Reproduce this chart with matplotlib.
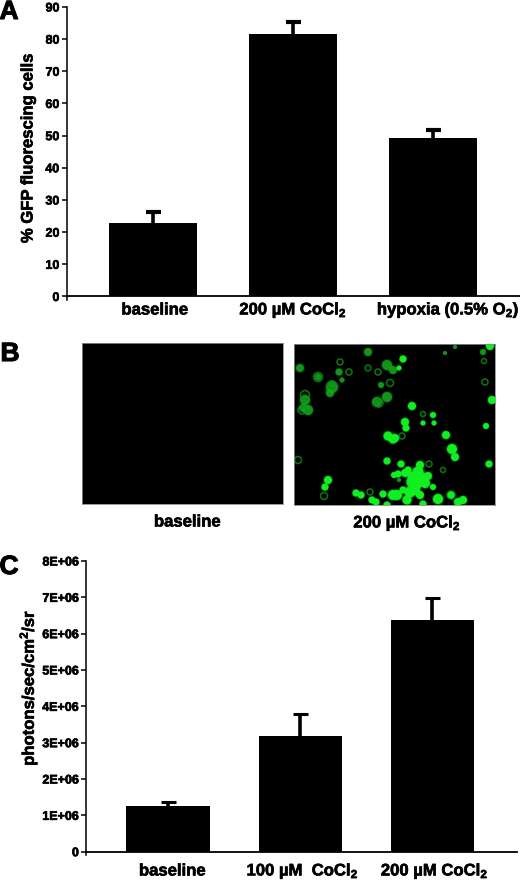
import matplotlib
matplotlib.use('Agg')
import matplotlib.pyplot as plt
import matplotlib.patheffects as pe

plt.rcParams['font.family'] = ['Liberation Sans']
plt.rcParams['font.weight'] = 'bold'
plt.rcParams['mathtext.fontset'] = 'custom'
plt.rcParams['mathtext.bf'] = 'Liberation Sans:bold'
plt.rcParams['mathtext.rm'] = 'Liberation Sans:bold'
plt.rcParams['mathtext.default'] = 'bf'

# Panel A
a_labels = ['baseline', '200 µM CoCl$_{2}$', 'hypoxia (0.5% O$_{2}$)']
a_values = [22.7, 81.7, 49.2]
a_errors = [3.6, 3.7, 2.7]
a_ticks = [0, 10, 20, 30, 40, 50, 60, 70, 80, 90]

b_labels = ['baseline', '200 µM CoCl$_{2}$']
bright_cells = [(403, 359, 7), (412, 406, 8), (405, 422, 8), (492, 400, 8), (433, 415, 6),
                (423, 423, 5), (434, 423, 5), (399, 368, 5), (446, 435, 8), (452, 449, 10),
                (455, 457, 8), (489, 464, 7), (401, 464, 7), (406, 428, 7), (395, 438, 8),
                (418, 472, 11), (413, 477, 11), (422, 478, 11), (398, 474, 7), (405, 473, 8),
                (412, 482, 11), (425, 483, 10), (410, 492, 11), (417, 485, 9), (407, 500, 9),
                (415, 490, 10), (433, 487, 6), (397, 495, 10), (438, 499, 10), (451, 495, 7),
                (458, 502, 8), (463, 500, 8), (423, 504, 7), (486, 426, 6), (388, 436, 9),
                (393, 439, 9), (387, 461, 7), (394, 475, 6), (328, 480, 8), (325, 487, 7),
                (356, 493, 7), (361, 495, 7), (372, 500, 7), (376, 502, 7), (383, 494, 7),
                (393, 495, 10), (387, 505, 7), (490, 346, 8), (420, 465, 8), (403, 490, 7),
                (428, 476, 8), (408, 470, 7), (420, 495, 8)]
dim_cells = [(368, 352, 8), (300, 368, 8), (332, 387, 12), (330, 393, 8), (305, 400, 10),
             (308, 410, 10), (303, 408, 8), (377, 402, 10), (387, 397, 10), (387, 365, 10),
             (393, 370, 8), (339, 372, 7), (318, 377, 7), (445, 353, 4), (455, 347, 4),
             (483, 352, 6), (399, 480, 4), (342, 380, 5), (381, 385, 6)]
ring_cells = [(485, 382, 6), (402, 436, 6), (429, 464, 6), (324, 496, 7), (370, 492, 6),
              (298, 460, 7), (349, 372, 6), (379, 403, 8), (368, 368, 6), (340, 362, 6),
              (390, 383, 7), (318, 377, 9), (332, 385, 8), (305, 395, 9), (451, 495, 8),
              (484, 361, 5), (423, 414, 5), (443, 470, 5), (378, 372, 6), (302, 410, 8)]

# Panel C
c_labels = ['baseline', '100 µM  CoCl$_{2}$', '200 µM CoCl$_{2}$']
c_values = [1.26e6, 3.18e6, 6.39e6]
c_errors = [0.1e6, 0.6e6, 0.6e6]
c_ticks = [0, 1e6, 2e6, 3e6, 4e6, 5e6, 6e6, 7e6, 8e6]
c_ticklabels = ['0', '1E+06', '2E+06', '3E+06', '4E+06', '5E+06', '6E+06', '7E+06', '8E+06']

W, H = 520, 880
fig = plt.figure(figsize=(W / 100, H / 100), dpi=100, facecolor='white')
heavy = [pe.withStroke(linewidth=0.45, foreground='black')]


def axes_px(x0, y0, x1, y1):
    return fig.add_axes([x0 / W, 1 - y1 / H, (x1 - x0) / W, (y1 - y0) / H])


def text_px(x, y, s, stroke=heavy, **kw):
    kw.setdefault('ha', 'center')
    kw.setdefault('va', 'center')
    kw.setdefault('fontweight', 'bold')
    fig.text(x / W, 1 - y / H, s, path_effects=stroke, **kw)


def bar_panel(ax, values, errors, ticks, ticklabels, ylim, xlim, capsize, elw, capthick):
    xs = list(range(len(values)))
    ax.bar(xs, values, width=0.63, color='black')
    _, caps, _ = ax.errorbar(xs, values, yerr=[[0] * len(xs), errors], fmt='none', ecolor='black',
                             elinewidth=elw, capsize=capsize, capthick=capthick)
    caps[0].set_visible(False)
    ax.set_xlim(*xlim)
    ax.set_ylim(*ylim)
    ax.set_xticks([])
    ax.set_yticks(ticks)
    ax.set_yticklabels(ticklabels, fontsize=9, fontweight='bold', path_effects=heavy)
    ax.tick_params(axis='y', length=3.6, width=1.1, pad=1.5)
    for s in ('top', 'right'):
        ax.spines[s].set_visible(False)
    ax.spines['left'].set_linewidth(1.1)
    ax.spines['bottom'].set_linewidth(1.3)
    ax.spines['left'].set_bounds(ylim[0] - (ylim[1] - ylim[0]) * 0.012, ylim[1])
    ax.patch.set_alpha(0)


# Panel A
ax_a = axes_px(66.5, 7, 520, 296.5)
bar_panel(ax_a, a_values, a_errors, a_ticks, [str(t) for t in a_ticks], (0, 90),
          (-0.618, 2.62), 5.4, 2.6, 3.0)
for x, s in zip([154.5, 293, 448], a_labels):
    text_px(x, 310, s, fontsize=12)
text_px(28, 149, '% GFP fluorescing cells', fontsize=12, rotation=90)

# Panel B
ax_b1 = axes_px(82, 343, 283, 504)
ax_b2 = axes_px(294, 344.5, 495, 505)
for ax in (ax_b1, ax_b2):
    ax.set_facecolor('black')
    ax.set_xticks([])
    ax.set_yticks([])
    for s in ax.spines.values():
        s.set_color('#8a8a8a')
        s.set_linewidth(0.6)
ax_b2.set_xlim(294, 495)
ax_b2.set_ylim(505, 344.5)
k = 0.72 ** 2
ax_b2.scatter([c[0] for c in dim_cells], [c[1] for c in dim_cells],
              s=[1.5 * k * c[2] ** 2 for c in dim_cells], color='#0a6e10', alpha=0.4, linewidths=0)
ax_b2.scatter([c[0] for c in dim_cells], [c[1] for c in dim_cells],
              s=[k * c[2] ** 2 for c in dim_cells], color='#14a81c', alpha=0.85, linewidths=0)
ax_b2.scatter([c[0] for c in ring_cells], [c[1] for c in ring_cells],
              s=[k * c[2] ** 2 for c in ring_cells], facecolors='none',
              edgecolors='#0f8a16', linewidths=1.2, alpha=0.8)
ax_b2.scatter([c[0] for c in bright_cells], [c[1] for c in bright_cells],
              s=[1.5 * k * c[2] ** 2 for c in bright_cells], color='#10b81a', alpha=0.4, linewidths=0)
ax_b2.scatter([c[0] for c in bright_cells], [c[1] for c in bright_cells],
              s=[k * c[2] ** 2 for c in bright_cells], color='#10f020', linewidths=0)
text_px(187, 522, b_labels[0], fontsize=12)
text_px(407, 523, b_labels[1], fontsize=12)

# Panel C
ax_c = axes_px(86, 561, 517, 851.7)
bar_panel(ax_c, c_values, c_errors, c_ticks, c_ticklabels, (0, 8e6),
          (-0.62, 2.64), 5.4, 2.6, 2.2)
for x, s in zip([172, 302.5, 434.5], c_labels):
    text_px(x, 871, s, fontsize=12)
text_px(28, 688, 'photons/sec/cm$^{2}$/sr', fontsize=12, rotation=90)

# Panel letters
big = [pe.withStroke(linewidth=0.8, foreground='black')]
text_px(9, 12, 'A', stroke=big, fontsize=19)
text_px(10, 354, 'B', stroke=big, fontsize=19)
text_px(9, 567, 'C', stroke=big, fontsize=19)

fig.savefig('out.png', dpi=100, facecolor='white')
